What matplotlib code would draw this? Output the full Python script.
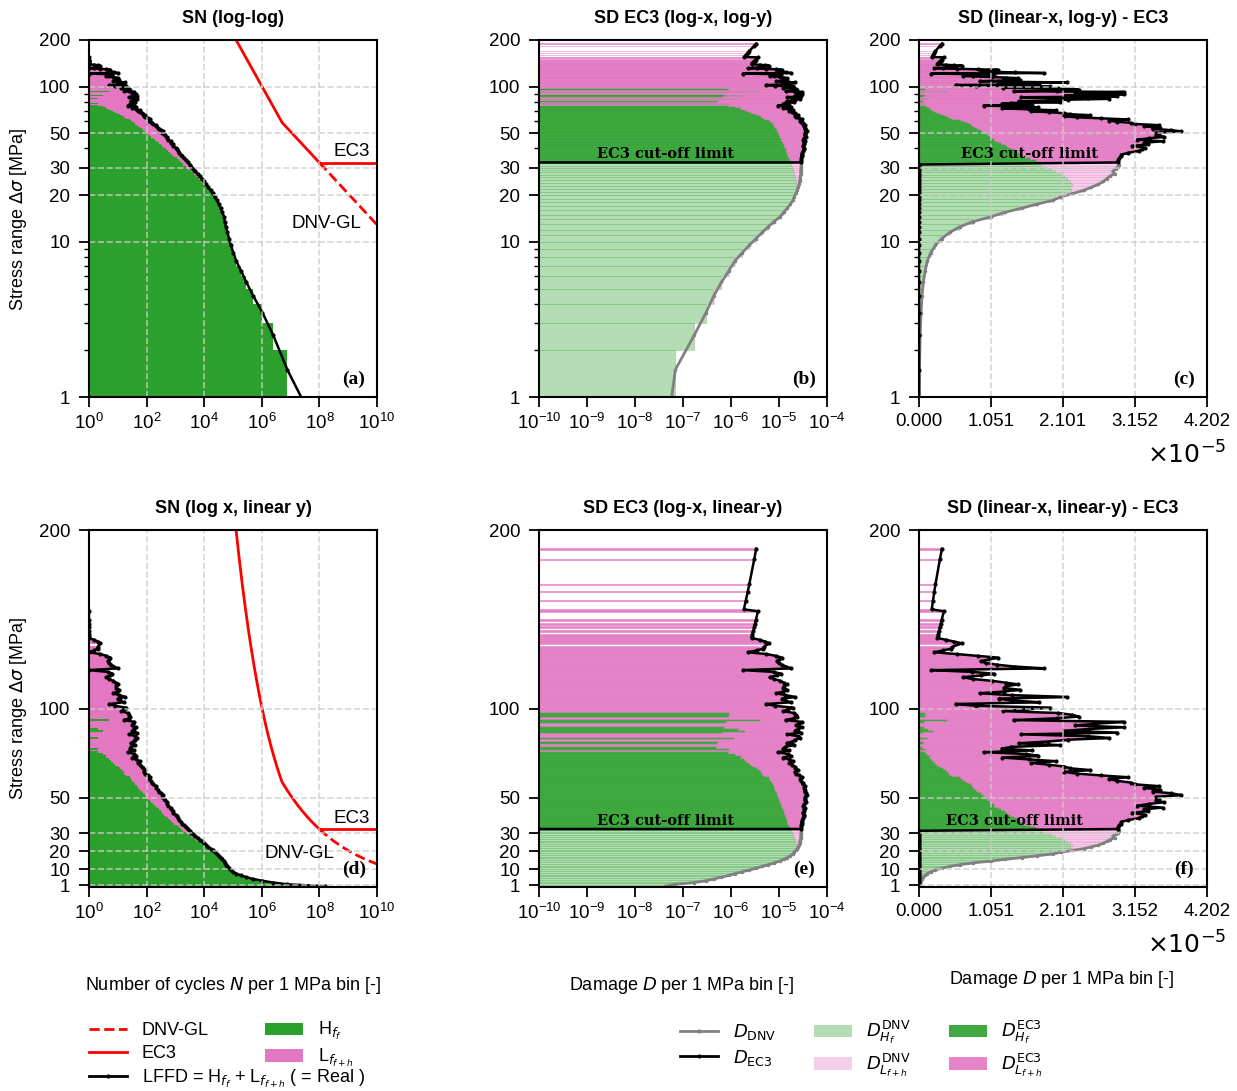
import numpy as np
import matplotlib.pyplot as plt
from matplotlib.lines import Line2D
from matplotlib.patches import Patch
from matplotlib.ticker import NullLocator

plt.rcParams['font.family'] = ['Liberation Sans', 'DejaVu Sans']
plt.rcParams['font.size'] = 13
plt.rcParams['axes.linewidth'] = 1.5

GREEN = '#2ca02c'
PINK = '#e377c2'

# 1 MPa stress range bins, labelled by their upper edge
stress_bins = np.arange(1, 191)

# cycles per bin, high-frequency part H_f
H_f = [1.50e8, 7.55e6, 2.45e6, 1.03e6, 4.9e5, 2.84e5, 1.86e5, 1.27e5, 1.01e5, 8.3e4,
       7.15e4, 6.25e4, 5.55e4, 5.07e4, 4.77e4, 4.13e4, 3.65e4, 3.14e4, 2.72e4, 2.21e4,
       1.84e4, 1.53e4, 1.22e4, 9950, 8040, 6480, 5240, 4310, 3430, 2810,
       2300, 1890, 1611, 1332, 1099, 901, 770, 656, 565, 480,
       409, 349, 305, 259, 222, 190, 169, 147, 129, 113,
       99, 87, 77, 67, 59, 52, 46, 41, 36, 32,
       28, 26, 20, 17, 16, 14, 12, 10, 8, 7,
       6, 5, 4, 4, 3, 2, 0, 2, 1, 0,
       1, 1, 0, 2, 0, 0, 1, 3, 2, 1,
       0, 0, 1, 5, 0, 1, 1, 1] + [0] * 92

# cycles per bin, low-frequency part L_f+h
L_fh = [3.0e6, 1.5e5, 5e4, 2e4, 1e4, 6e3, 4e3, 3e3, 2e3, 2e3,
        1.5e3, 1.5e3, 1.5e3, 1.3e3, 1.3e3, 1.2e3, 1.1e3, 1.0e3, 800, 900,
        1200, 1300, 1700, 1750, 1760, 1720, 1660, 1590, 1470, 1390,
        1300, 1210, 1028, 941, 882, 836, 745, 715, 698, 650,
        605, 499, 502, 449, 463, 360, 351, 352, 306, 286,
        257, 271, 236, 197, 190, 160, 161, 130, 118, 105,
        97, 105, 89, 73, 63, 75, 63, 59, 51, 42,
        51, 39, 28, 40, 35, 20, 37, 24, 27, 41,
        27, 34, 39, 46, 41, 24, 44, 29, 34, 41,
        31, 34, 37, 12, 24, 26, 24, 21, 13, 16,
        19, 8, 5, 16, 12, 10, 18, 11, 7, 9.5,
        11, 9, 9, 10, 8.5, 7, 5, 4, 5.5, 6.5,
        4.5, 1, 10, 7.5, 6, 5, 4.5, 5, 5.5, 4,
        2.5, 1, 1.5, 2, 2, 0, 2.5, 2, 1.5, 1,
        1, 1, 0, 1, 0, 1, 0, 1, 0, 1,
        0, 0, 0, 0, 1, 0.5, 0, 0, 0, 0,
        0.5, 0, 0, 0, 0, 0.5, 0, 0, 0, 0.5,
        0, 0, 0, 0, 0, 0, 0, 0, 0, 0,
        0, 0, 0, 0.5, 0, 0, 0, 0, 0, 0.5]

# EC3 detail category 80; DNV-GL keeps the m=5 branch below the cut-off
sigma_C, N_C = 80.0, 2e6
N_D, N_L = 5e6, 1e8
sigma_D = sigma_C * (N_C / N_D) ** (1 / 3)
sigma_L = sigma_D * (N_D / N_L) ** (1 / 5)


def n_allow(sig):
    sig = np.asarray(sig, dtype=float)
    return np.where(sig >= sigma_D, N_C * (sigma_C / sig) ** 3,
                    N_D * (sigma_D / sig) ** 5)


s = stress_bins.astype(float)
H = np.array(H_f, dtype=float)
L = np.array(L_fh, dtype=float)
lffd = H + L
Nr = n_allow(s)
dH = H / Nr
dL = L / Nr
dtot = dH + dL
below = s < sigma_L
above = ~below
d_ec3 = np.where(below, 0.0, dtot)
y_mid = s - 0.5
nz = lffd > 0
hz = H > 0
lz = L > 0

W, HT = 1237, 1091
fig = plt.figure(figsize=(W / 100, HT / 100), dpi=100)


def add_ax(x0, ytop):
    ax = fig.add_axes([x0 / W, 1 - (ytop + 357) / HT, 288 / W, 357 / HT])
    for sp in ax.spines.values():
        sp.set_zorder(5)
    return ax


ytick_vals = [1, 10, 20, 30, 50, 100, 200]


def style_y(ax, logy):
    if logy:
        ax.set_yscale('log')
        ax.set_ylim(1, 200)
    else:
        ax.set_ylim(0, 200)
    ax.set_yticks(ytick_vals)
    ax.set_yticklabels([str(v) for v in ytick_vals])
    if not logy:
        ax.yaxis.set_minor_locator(NullLocator())
    ax.tick_params(which='major', direction='out', length=7, width=1.3, labelsize=13.5)
    ax.tick_params(which='minor', direction='out', length=3.5, width=1.0)
    ax.tick_params(axis='y', which='major', pad=6.5)
    ax.tick_params(axis='x', which='major', pad=4.5)


def grid_on(ax):
    ax.set_axisbelow(False)
    ax.grid(True, which='major', ls='--', color='0.8', lw=1.2, alpha=0.8)


def sn_panel(ax, logy, title, tag, dnv_pos):
    ax.barh(s[hz] - 1, H[hz], height=1, align='edge', color=GREEN, lw=0)
    ax.barh(s[lz] - 1, L[lz], left=H[lz], height=1, align='edge', color=PINK, lw=0)
    ax.plot(lffd[nz], y_mid[nz], color='k', lw=1.8, marker='.', ms=4)
    sig = np.linspace(200, sigma_L, 400)
    ax.plot(n_allow(sig), sig, color='red', lw=2)
    ax.plot([N_L, 1e10], [sigma_L, sigma_L], color='red', lw=2)
    sig2 = np.linspace(sigma_L, 10, 200)
    ax.plot(n_allow(sig2), sig2, color='red', lw=2, ls='--')
    ax.set_xscale('log')
    ax.set_xlim(1, 1e10)
    ax.set_xticks([1e0, 1e2, 1e4, 1e6, 1e8, 1e10])
    ax.xaxis.set_minor_locator(NullLocator())
    style_y(ax, logy)
    grid_on(ax)
    ax.text(10 ** 9.13, 38.5, 'EC3', ha='center', va='center', fontsize=13.5)
    ax.text(dnv_pos[0], dnv_pos[1], 'DNV-GL', ha='center', va='center', fontsize=13.5)
    ax.set_title(title, fontweight='bold', fontsize=13, pad=12)
    ax.text(0.92, 0.05, tag, transform=ax.transAxes, ha='center', va='center',
            fontsize=14, fontweight='bold', family='Liberation Serif')


def sd_panel(ax, logx, logy, title, tag, cut_x):
    for mask, a in ((below, 0.35), (above, 0.9)):
        mh = mask & hz
        ml = mask & lz
        ax.barh(s[mh] - 1, dH[mh], height=1, align='edge', color=GREEN, alpha=a,
                edgecolor=GREEN, lw=0.4)
        ax.barh(s[ml] - 1, dL[ml], left=dH[ml], height=1, align='edge',
                color=PINK, alpha=a, edgecolor=PINK, lw=0.4)
    ax.plot(dtot[below], y_mid[below], color='gray', lw=2, marker='.', ms=3)
    ax.plot(d_ec3[nz], y_mid[nz], color='k', lw=1.8, marker='.', ms=4)
    if logx:
        ax.set_xscale('log')
        ax.set_xlim(1e-10, 1e-4)
        ax.set_xticks([10.0 ** k for k in range(-10, -3)])
        ax.xaxis.set_minor_locator(NullLocator())
    else:
        xmax = 4.202e-5
        ax.set_xlim(0, xmax)
        ax.set_xticks(np.linspace(0, xmax, 5))
        ax.set_xticklabels(['0.000', '1.051', '2.101', '3.152', '4.202'])
    style_y(ax, logy)
    if not logx:
        grid_on(ax)
    ax.annotate('EC3 cut-off limit', xy=(cut_x, sigma_L), xycoords=('axes fraction', 'data'),
                xytext=(0, 1), textcoords='offset points', ha='center', va='bottom',
                fontsize=10.5, fontweight='bold', family='DejaVu Serif')
    ax.set_title(title, fontweight='bold', fontsize=13, pad=12)
    ax.text(0.92, 0.05, tag, transform=ax.transAxes, ha='center', va='center',
            fontsize=14, fontweight='bold', family='Liberation Serif')


ax_a = add_ax(89, 40)
ax_b = add_ax(539, 40)
ax_c = add_ax(919, 40)
ax_d = add_ax(89, 530)
ax_e = add_ax(539, 530)
ax_f = add_ax(919, 530)

sn_panel(ax_a, True, 'SN (log-log)', '(a)', (10 ** 8.26, 13.1))
sn_panel(ax_d, False, 'SN (log x, linear y)', '(d)', (10 ** 7.29, 19))
sd_panel(ax_b, True, True, 'SD EC3 (log-x, log-y)', '(b)', 0.44)
sd_panel(ax_e, True, False, 'SD EC3 (log-x, linear-y)', '(e)', 0.44)
sd_panel(ax_c, False, True, 'SD (linear-x, log-y) - EC3', '(c)', 0.385)
sd_panel(ax_f, False, False, 'SD (linear-x, linear-y) - EC3', '(f)', 0.33)

ylab = r'Stress range $\mathit{\Delta\sigma}$ [MPa]'
fig.text(19 / W, 1 - 219 / HT, ylab, rotation=90, ha='center', va='center', fontsize=13)
fig.text(19 / W, 1 - 708 / HT, ylab, rotation=90, ha='center', va='center', fontsize=13)

fig.text(233 / W, 1 - 985 / HT, r'Number of cycles $N$ per 1 MPa bin [-]',
         ha='center', va='center', fontsize=13)
fig.text(682 / W, 1 - 985 / HT, r'Damage $D$ per 1 MPa bin [-]',
         ha='center', va='center', fontsize=13)
fig.text(1062 / W, 1 - 979 / HT, r'Damage $D$ per 1 MPa bin [-]',
         ha='center', va='center', fontsize=13)
for yy in (455, 945):
    fig.text(1147 / W, 1 - yy / HT, r'$\times10^{-5}$',
             ha='left', va='center', fontsize=18)

# legends
leg1 = [Line2D([], [], color='red', ls='--', lw=2),
        Line2D([], [], color='red', lw=2),
        Line2D([], [], color='k', lw=2, marker='.', ms=4)]
lab1 = ['DNV-GL', 'EC3', r'LFFD = H$_{f_f}$ + L$_{f_{f+h}}$ ( = Real )']
fig.legend(leg1, lab1, loc='upper left', bbox_to_anchor=(73 / W, 1 - 1006 / HT),
           frameon=False, fontsize=13, handlelength=2.1, handletextpad=0.8,
           labelspacing=0.32)
leg2 = [Patch(facecolor=GREEN), Patch(facecolor=PINK)]
lab2 = [r'H$_{f_f}$', r'L$_{f_{f+h}}$']
fig.legend(leg2, lab2, loc='upper left', bbox_to_anchor=(249 / W, 1 - 1004 / HT),
           frameon=False, fontsize=13, handlelength=2.1, handletextpad=0.8,
           labelspacing=0.25)

leg3 = [Line2D([], [], color='gray', lw=2, marker='.', ms=4),
        Line2D([], [], color='k', lw=2, marker='.', ms=4),
        Patch(facecolor=GREEN, alpha=0.35), Patch(facecolor=PINK, alpha=0.35),
        Patch(facecolor=GREEN, alpha=0.9), Patch(facecolor=PINK, alpha=0.9)]
lab3 = [r'$D_{\rm DNV}$', r'$D_{\rm EC3}$',
        r'$D^{\rm DNV}_{H_f}$', r'$D^{\rm DNV}_{L_{f+h}}$',
        r'$D^{\rm EC3}_{H_f}$', r'$D^{\rm EC3}_{L_{f+h}}$']
fig.legend(leg3, lab3, loc='upper left', bbox_to_anchor=(664 / W, 1 - 1003 / HT),
           ncol=3, frameon=False, fontsize=13, handlelength=2.1, handletextpad=0.8,
           labelspacing=0.3, columnspacing=2.1)

fig.savefig('out.png', dpi=100)
